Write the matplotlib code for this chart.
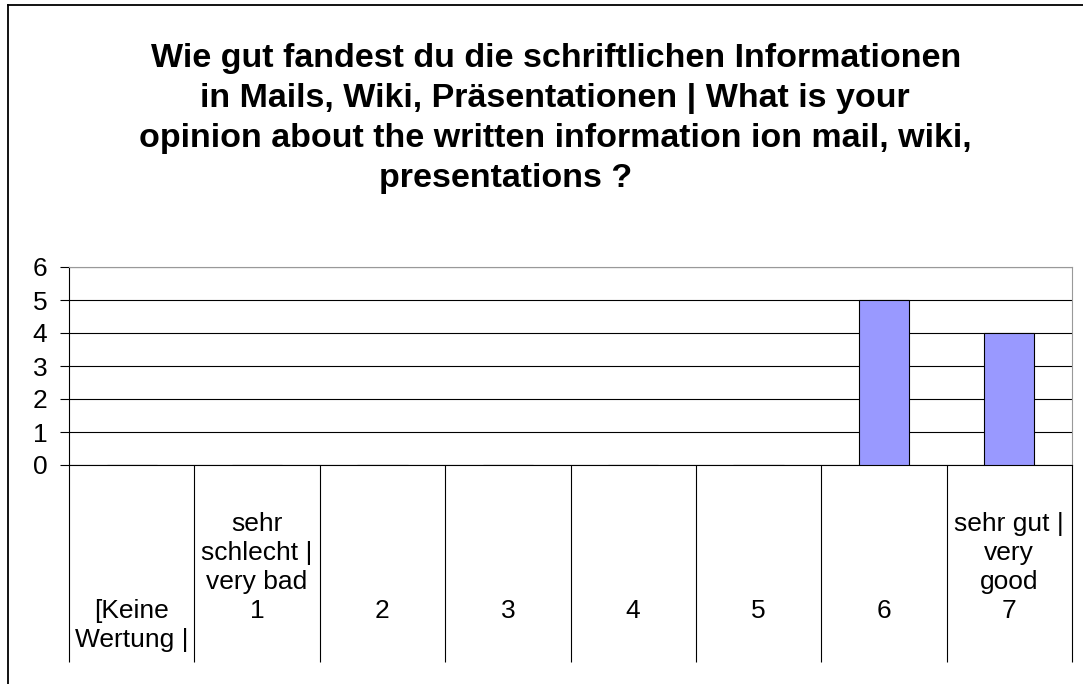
#!/usr/bin/env python3
# Balkendiagramm: Bewertung der schriftlichen Informationen

import matplotlib
matplotlib.use("Agg")
import matplotlib.pyplot as plt
from matplotlib.lines import Line2D

# ---------------------------------------------------------------------
TITLE_LINES = [
    "Wie gut fandest du die schriftlichen Informationen",
    "in Mails, Wiki, Präsentationen | What is your",
    "opinion about the written information ion mail, wiki,",
    "presentations ?",
]
CATEGORIES   = ["[Keine\nWertung |", "1", "2", "3", "4", "5", "6", "7"]
UPPER_LABELS = ["", "sehr\nschlecht |\nvery bad", "", "", "", "", "", "sehr gut |\nvery\ngood"]
VALUES       = [0, 0, 0, 0, 0, 0, 5, 4]
Y_TICKS      = [0, 1, 2, 3, 4, 5, 6]

W, H = 1083, 684
FS = 19
plt.rcParams["font.family"] = ["Liberation Sans", "DejaVu Sans"]

fig = plt.figure(figsize=(W / 100, H / 100), dpi=100)

# Rahmen links und oben
fig.add_artist(Line2D([8 / W, 8 / W], [0, 1 - 5 / H], color="black", lw=1.3))
fig.add_artist(Line2D([8 / W, 1], [1 - 5 / H, 1 - 5 / H], color="black", lw=1.3))

# Titel, Zeile für Zeile
title_x = [556, 555, 555, 506]
title_y = [58, 98, 138, 178]
for line, x, y in zip(TITLE_LINES, title_x, title_y):
    fig.text(x / W, 1 - y / H, line, ha="center", va="center",
             fontsize=24.5, fontweight="bold")

x0, x1, y0, y1 = 69, 1072, 465, 267
ax = fig.add_axes([x0 / W, 1 - y0 / H, (x1 - x0) / W, (y0 - y1) / H])

n = len(CATEGORIES)
pos = [i + 0.5 for i in range(n)]
ax.bar(pos, VALUES, width=0.4, color="#9999ff", edgecolor="black", linewidth=0.8, zorder=3)

ax.set_xlim(0, n)
ax.set_ylim(0, 6)
ax.set_yticks(Y_TICKS)
ax.set_yticklabels([str(t) for t in Y_TICKS], fontsize=FS)
ax.tick_params(axis="y", direction="out", length=6.5, width=0.8, pad=9)
ax.set_xticks([])
ax.grid(axis="y", color="black", linewidth=0.8, zorder=0)

for side in ["top", "right"]:
    ax.spines[side].set_color("#999999")
ax.spines["left"].set_linewidth(0.8)
ax.spines["bottom"].set_linewidth(0.8)

# Kategoriebereich unterhalb der Achse
low = (y0 - 662) / (y0 - y1)
trans = ax.get_xaxis_transform()
ax.vlines(range(n + 1), low, 0, transform=trans, colors="black", linewidth=0.8, clip_on=False)

for i, (cat, up) in enumerate(zip(CATEGORIES, UPPER_LABELS)):
    if "\n" in cat:
        ax.text(pos[i], (y0 - 625.5) / (y0 - y1), cat, transform=trans,
                ha="center", va="center", fontsize=FS, linespacing=1.24)
    else:
        ax.text(pos[i], (y0 - 611) / (y0 - y1), cat, transform=trans,
                ha="center", va="center", fontsize=FS)
    if up:
        ax.text(pos[i], (y0 - 553) / (y0 - y1), up, transform=trans,
                ha="center", va="center", fontsize=FS, linespacing=1.24)

fig.savefig("out.png", dpi=100)
